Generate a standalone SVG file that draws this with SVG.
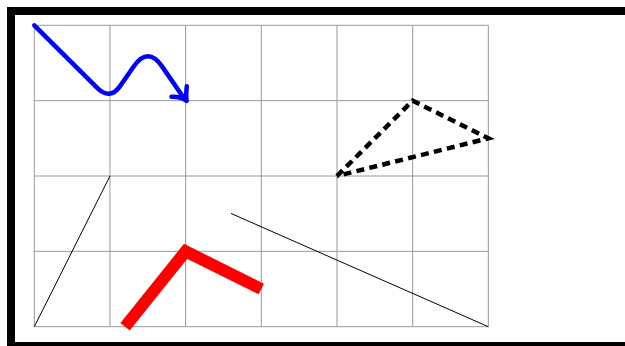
<svg xmlns="http://www.w3.org/2000/svg" width="625" height="346" viewBox="0 0 625 346">
<style>
.grid{stroke:#999;stroke-width:1;fill:none}
.thin{stroke:#000;stroke-width:1;fill:none}
</style>
<rect width="625" height="346" fill="#fff"/>
<g id="frame"><rect x="11" y="11" width="700" height="335" fill="none" stroke="#000" stroke-width="8"/></g>
<g id="grid" class="grid">
<path d="M34.3 25.3V326.7M109.97 25.3V326.7M185.64 25.3V326.7M261.31 25.3V326.7M336.98 25.3V326.7M412.65 25.3V326.7M488.32 25.3V326.7"/>
<path d="M34.3 25.3H488.32M34.3 100.65H488.32M34.3 176H488.32M34.3 251.35H488.32M34.3 326.7H488.32"/>
</g>
<g id="connectors">
<g id="blue-path" fill="none" stroke="#00f" stroke-width="4.5" stroke-linecap="round" stroke-linejoin="round">
<path d="M34.3 25.3L97.2 87.95Q109.97 100.65 120.25 85.87L133.7 66.5Q148 46 162.2 66.6L185 99.7"/>
<path d="M171.5 96.8Q181 96.5 186.6 100.8M186.8 86.2Q185.8 95 186.6 100.8"/>
</g>
<path id="dashed-triangle" d="M336.98 176L412.65 100.65L488.32 138.3L336.98 176" fill="none" stroke="#000" stroke-width="4.5" stroke-dasharray="8 5.3" stroke-linejoin="miter"/>
<path id="red-path" d="M125.1 326.7L185.64 251.35L261.31 289" fill="none" stroke="#f00" stroke-width="12" stroke-linejoin="miter"/>
<path id="line-a" class="thin" d="M34.3 326.7L109.97 176"/>
<path id="line-b" class="thin" d="M231 213.45L488.32 326.7"/>
</g>
</svg>
